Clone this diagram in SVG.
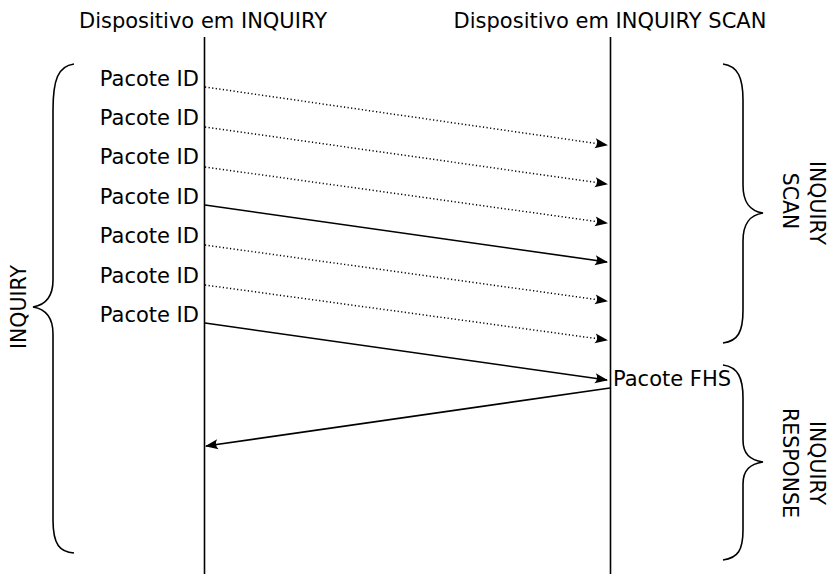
<svg xmlns="http://www.w3.org/2000/svg" width="830" height="574" viewBox="0 0 830 574">
<defs>
<marker id="ah" markerUnits="userSpaceOnUse" markerWidth="16" markerHeight="12" viewBox="-14 -6 16 12" refX="0" refY="0" orient="auto">
<path d="M1,0 L-12,-5 Q-8,0 -12,5 Z" fill="#000"/>
</marker>
</defs>
<style>
text{font-family:"DejaVu Sans","Liberation Sans",sans-serif;font-size:21px;fill:#000}
.rot{font-size:20.5px}
.life{stroke:#000;stroke-width:1.6;fill:none}
.brace{stroke:#000;stroke-width:1.6;fill:none}
.solid{stroke:#000;stroke-width:1.6;fill:none;marker-end:url(#ah)}
.dot{stroke:#000;stroke-width:1.5;fill:none;stroke-dasharray:1.2 2.4;marker-end:url(#ah)}
</style>
<rect width="830" height="574" fill="#fff"/>
<g id="dev-inquiry">
<text x="203" y="28" text-anchor="middle">Dispositivo em INQUIRY</text>
<line class="life" x1="204.5" y1="37" x2="204.5" y2="574"/>
</g>
<g id="dev-scan">
<text x="610" y="28" text-anchor="middle">Dispositivo em INQUIRY SCAN</text>
<line class="life" x1="610.5" y1="37" x2="610.5" y2="574"/>
</g>
<g id="labels">
<text x="199" y="86" text-anchor="end">Pacote ID</text>
<text x="199" y="125" text-anchor="end">Pacote ID</text>
<text x="199" y="164" text-anchor="end">Pacote ID</text>
<text x="199" y="204" text-anchor="end">Pacote ID</text>
<text x="199" y="243" text-anchor="end">Pacote ID</text>
<text x="199" y="283" text-anchor="end">Pacote ID</text>
<text x="199" y="322" text-anchor="end">Pacote ID</text>
<text x="613" y="386">Pacote FHS</text>
</g>
<g id="brace-inquiry">
<path class="brace" d="M74,64 C58,66 53,80 53,110 L53,280 C53,297 45,305 33,307 C45,309 53,317 53,334 L53,520 C53,545 60,552 74,553"/>
<text class="rot" transform="translate(26,307) rotate(-90)" text-anchor="middle">INQUIRY</text>
</g>
<g id="brace-scan">
<path class="brace" d="M723,64 C738,66 743,78 743,100 L743,185 C743,203 750,211 763,213 C750,215 743,223 743,241 L743,310 C743,332 738,341 723,343"/>
<text class="rot" transform="translate(810,203) rotate(90)" text-anchor="middle">INQUIRY</text>
<text class="rot" transform="translate(783,201) rotate(90)" text-anchor="middle">SCAN</text>
</g>
<g id="brace-response">
<path class="brace" d="M723,365 C738,367 743,378 743,398 L743,440 C743,454 750,460 763,462 C750,464 743,470 743,484 L743,530 C743,550 738,558 723,560"/>
<text class="rot" transform="translate(810,463) rotate(90)" text-anchor="middle">INQUIRY</text>
<text class="rot" transform="translate(783,463) rotate(90)" text-anchor="middle">RESPONSE</text>
</g>
<g id="connectors">
<line class="dot" x1="205" y1="87" x2="607" y2="145"/>
<line class="dot" x1="205" y1="127" x2="607" y2="184"/>
<line class="dot" x1="205" y1="167" x2="607" y2="223"/>
<line class="solid" x1="205" y1="205" x2="607" y2="262"/>
<line class="dot" x1="205" y1="245" x2="607" y2="301"/>
<line class="dot" x1="205" y1="285" x2="607" y2="340"/>
<line class="solid" x1="205" y1="323" x2="607" y2="380"/>
<line class="solid" x1="610" y1="388" x2="206" y2="446"/>
</g>
</svg>
